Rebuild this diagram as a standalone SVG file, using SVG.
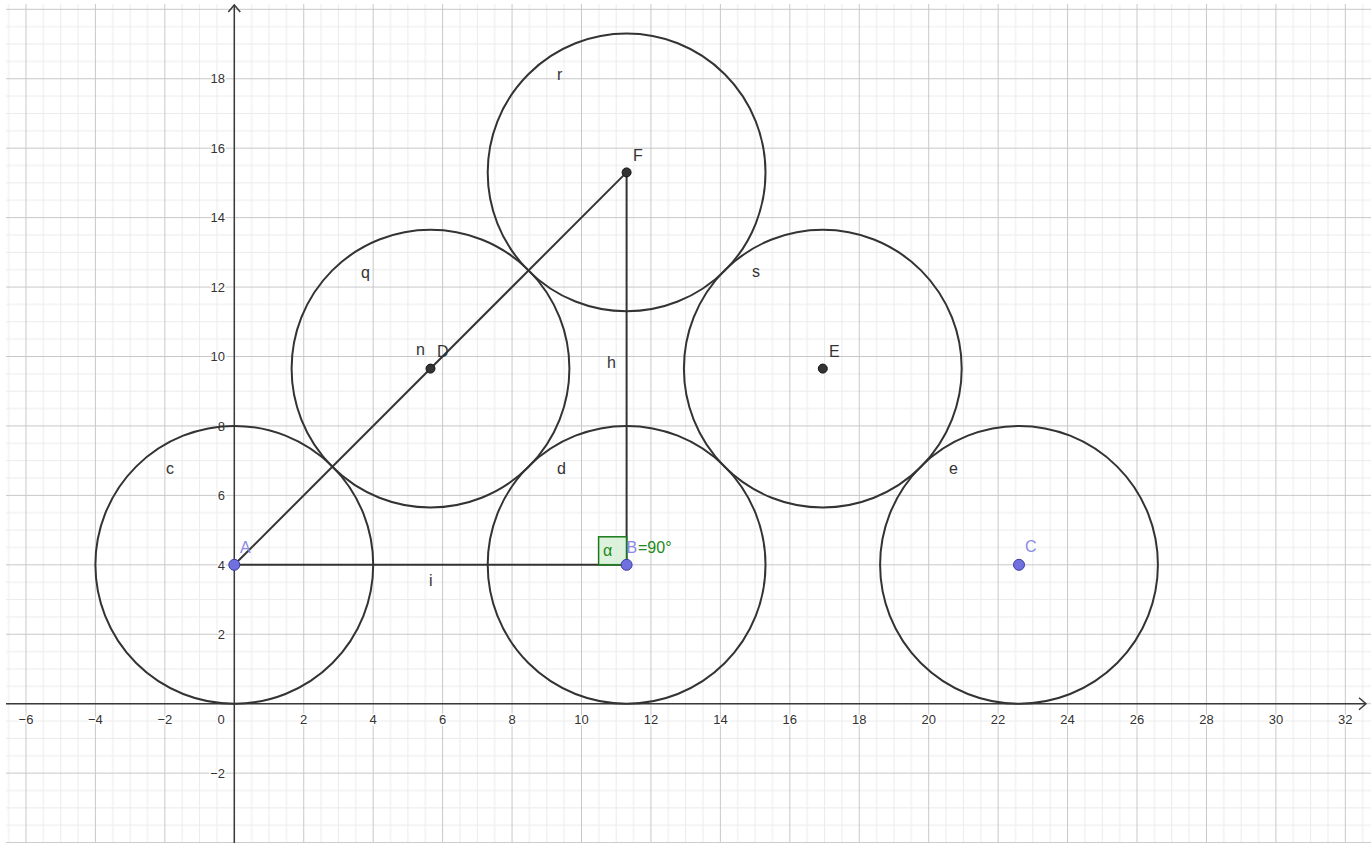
<svg xmlns="http://www.w3.org/2000/svg" width="1371" height="843" viewBox="0 0 1371 843">
<style>
.grid-minor{fill:#ebebeb}
.grid-major{fill:#c8c8c8}
.axis{stroke:#3a3a3a;stroke-width:1.5;fill:none}
.tick{font-family:"Liberation Sans",Arial,sans-serif;font-size:13px;fill:#333;stroke:#fff;stroke-width:3;paint-order:stroke;stroke-linejoin:round}
.circ{fill:none;stroke:#333;stroke-width:2}
.seg{stroke:#333;stroke-width:2;fill:none}
.lbl{font-family:"Liberation Sans",Arial,sans-serif;font-size:16px;fill:#333}
.lblb{font-family:"Liberation Sans",Arial,sans-serif;font-size:16px;fill:#8a8ae6}
.free{fill:#7070e0;stroke:#3c3ca0;stroke-width:1}
.dep{fill:#333;stroke:#111;stroke-width:1}
.ang{font-family:"Liberation Sans",Arial,sans-serif;font-size:16px;fill:#1a8a1a}
</style>
<defs>
<pattern id="grid" patternUnits="userSpaceOnUse" x="233.8" y="703.2" width="69.44" height="69.44">
<rect class="grid-minor" x="17.36" y="0" width="1" height="69.44"/>
<rect class="grid-minor" x="34.72" y="0" width="1" height="69.44"/>
<rect class="grid-minor" x="52.08" y="0" width="1" height="69.44"/>
<rect class="grid-minor" x="0" y="17.36" width="69.44" height="1"/>
<rect class="grid-minor" x="0" y="34.72" width="69.44" height="1"/>
<rect class="grid-minor" x="0" y="52.08" width="69.44" height="1"/>
<rect class="grid-major" x="0" y="0" width="1" height="69.44"/>
<rect class="grid-major" x="0" y="0" width="69.44" height="1"/>
</pattern>
</defs>
<rect x="0" y="0" width="1371" height="843" fill="#fff"/>
<rect x="6" y="4" width="1365" height="839" fill="url(#grid)"/>

<g id="axes">
<line class="axis" x1="6" y1="703.7" x2="1366" y2="703.7"/>
<polyline class="axis" points="1359,697.7 1366,703.7 1359,709.7"/>
<line class="axis" x1="234.3" y1="843" x2="234.3" y2="5"/>
<polyline class="axis" points="228.3,12 234.3,5 240.3,12"/>
</g>

<g id="x-ticks" text-anchor="middle">
<text class="tick" x="26" y="724">−6</text>
<text class="tick" x="95.4" y="724">−4</text>
<text class="tick" x="164.9" y="724">−2</text>
<text class="tick" x="221" y="724">0</text>
<text class="tick" x="303.7" y="724">2</text>
<text class="tick" x="373.2" y="724">4</text>
<text class="tick" x="442.6" y="724">6</text>
<text class="tick" x="512.1" y="724">8</text>
<text class="tick" x="581.5" y="724">10</text>
<text class="tick" x="650.9" y="724">12</text>
<text class="tick" x="720.4" y="724">14</text>
<text class="tick" x="789.8" y="724">16</text>
<text class="tick" x="859.3" y="724">18</text>
<text class="tick" x="928.7" y="724">20</text>
<text class="tick" x="998.1" y="724">22</text>
<text class="tick" x="1067.6" y="724">24</text>
<text class="tick" x="1137" y="724">26</text>
<text class="tick" x="1206.5" y="724">28</text>
<text class="tick" x="1275.9" y="724">30</text>
<text class="tick" x="1345.3" y="724">32</text>
</g>
<g id="y-ticks" text-anchor="end">
<text class="tick" x="225" y="778">−2</text>
<text class="tick" x="225" y="639">2</text>
<text class="tick" x="225" y="569.5">4</text>
<text class="tick" x="225" y="500">6</text>
<text class="tick" x="225" y="430.6">8</text>
<text class="tick" x="225" y="361.2">10</text>
<text class="tick" x="225" y="291.7">12</text>
<text class="tick" x="225" y="222.3">14</text>
<text class="tick" x="225" y="152.8">16</text>
<text class="tick" x="225" y="83.4">18</text>
</g>

<g id="circles">
<circle id="c" class="circ" cx="234.3" cy="564.8" r="138.9"/>
<circle id="d" class="circ" cx="626.6" cy="564.8" r="138.9"/>
<circle id="e" class="circ" cx="1019" cy="564.8" r="138.9"/>
<circle id="q" class="circ" cx="430.5" cy="368.6" r="138.9"/>
<circle id="s" class="circ" cx="822.8" cy="368.6" r="138.9"/>
<circle id="r" class="circ" cx="626.6" cy="172.4" r="138.9"/>
</g>

<g id="connectors">
<line id="n" class="seg" x1="234.3" y1="564.8" x2="626.6" y2="172.4"/>
<line id="i" class="seg" x1="234.3" y1="564.8" x2="626.6" y2="564.8"/>
<line id="h" class="seg" x1="626.6" y1="564.8" x2="626.6" y2="172.4"/>
</g>

<g id="angle">
<rect x="598.6" y="536.8" width="28" height="28" fill="#d4efd4" fill-opacity="0.8" stroke="#1a7a1a" stroke-width="1.5"/>
<text class="ang" x="603" y="556">α</text>
<text class="ang" x="638" y="553">=90°</text>
</g>

<g id="labels">
<text class="lbl" x="166" y="474">c</text>
<text class="lbl" x="557" y="474">d</text>
<text class="lbl" x="949" y="474">e</text>
<text class="lbl" x="361" y="278">q</text>
<text class="lbl" x="752" y="277">s</text>
<text class="lbl" x="557" y="80">r</text>
<text class="lbl" x="416" y="355">n</text>
<text class="lbl" x="607" y="368">h</text>
<text class="lbl" x="429" y="586">i</text>
</g>

<g id="A"><circle class="free" cx="234.3" cy="564.8" r="5.5"/><text class="lblb" x="240" y="553">A</text></g>
<g id="B"><circle class="free" cx="626.6" cy="564.8" r="5.5"/><text class="lblb" x="626.5" y="553">B</text></g>
<g id="C"><circle class="free" cx="1019" cy="564.8" r="5.5"/><text class="lblb" x="1025" y="552">C</text></g>
<g id="D"><circle class="dep" cx="430.5" cy="368.6" r="4.5"/><text class="lbl" x="437" y="357">D</text></g>
<g id="E"><circle class="dep" cx="822.8" cy="368.6" r="4.5"/><text class="lbl" x="829" y="357">E</text></g>
<g id="F"><circle class="dep" cx="626.6" cy="172.4" r="4.5"/><text class="lbl" x="633" y="161">F</text></g>
</svg>
